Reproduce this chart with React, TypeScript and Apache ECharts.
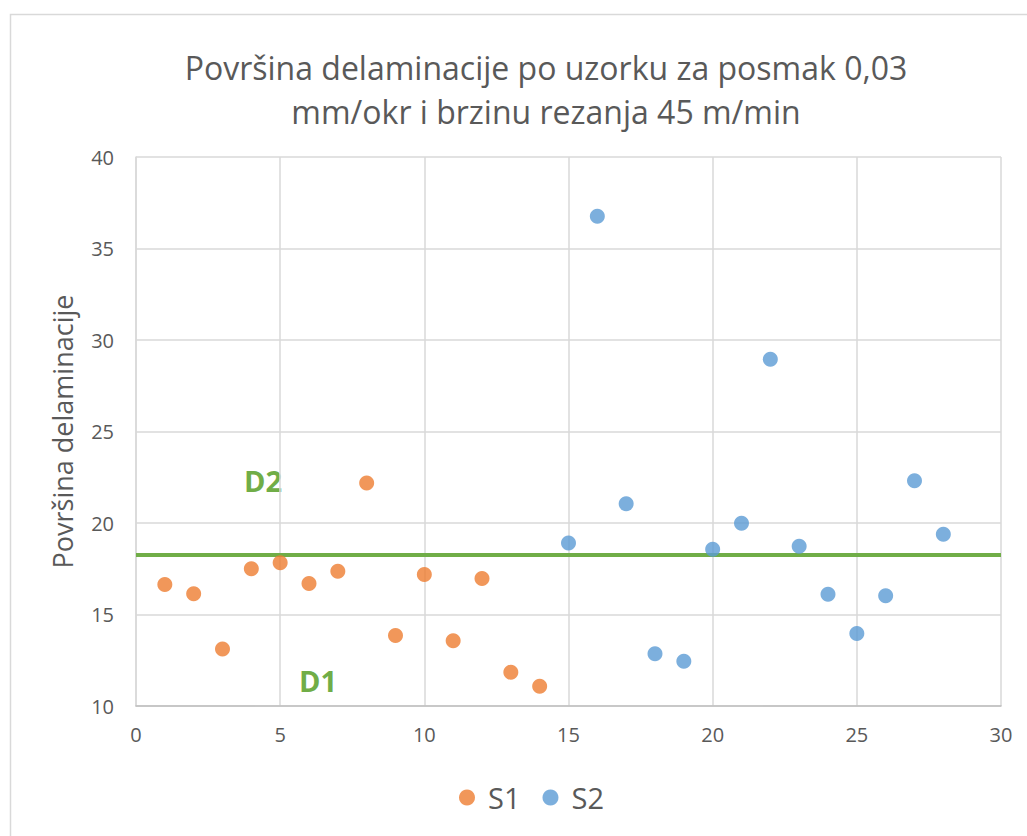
import React, { useEffect, useRef } from "react";
import * as echarts from "echarts";

const titleText = "Površina delaminacije po uzorku za posmak 0,03\nmm/okr i brzinu rezanja 45 m/min";
const yAxisName = "Površina delaminacije";

const s1X = [1, 2, 3, 4, 5, 6, 7, 8, 9, 10, 11, 12, 13, 14];
const s1Y = [16.64, 16.13, 13.12, 17.5, 17.83, 16.7, 17.36, 22.19, 13.85, 17.19, 13.56, 16.97, 11.85, 11.08];

const s2X = [15, 16, 17, 18, 19, 20, 21, 22, 23, 24, 25, 26, 27, 28];
const s2Y = [18.91, 36.76, 21.05, 12.85, 12.45, 18.56, 19.98, 28.95, 18.73, 16.11, 13.96, 16.02, 22.31, 19.38];

const thresholdX = [0, 30];
const thresholdY = 18.25;

const regionLabels = ["D2", "D1"];

export default function App() {
  const ref = useRef<HTMLDivElement>(null);
  useEffect(() => {
    if (!ref.current) return;
    const chart = echarts.init(ref.current, null, { renderer: "svg" });
    const font = "'Open Sans', 'Noto Sans', sans-serif";
    chart.setOption({
      animation: false,
      backgroundColor: "#ffffff",
      textStyle: { fontFamily: font },
      title: {
        text: titleText,
        left: 541,
        textAlign: "center",
        top: 40,
        textStyle: { fontSize: 32, fontWeight: "normal", color: "#595959", lineHeight: 44, fontFamily: font },
      },
      grid: { left: 136, right: 26, top: 157, bottom: 130, containLabel: false },
      xAxis: {
        type: "value",
        min: 0,
        max: 30,
        interval: 5,
        axisLine: { show: true, lineStyle: { color: "#BFBFBF", width: 1.5 } },
        axisTick: { show: false },
        axisLabel: { color: "#595959", fontSize: 20, margin: 18, fontFamily: font },
        splitLine: { show: true, lineStyle: { color: "#D9D9D9", width: 1.5 } },
      },
      yAxis: {
        type: "value",
        min: 10,
        max: 40,
        interval: 5,
        name: yAxisName,
        nameLocation: "middle",
        nameGap: 60,
        nameTextStyle: { color: "#595959", fontSize: 27, fontFamily: font },
        axisLine: { show: true, lineStyle: { color: "#D9D9D9", width: 1.5 } },
        axisTick: { show: false },
        axisLabel: { color: "#595959", fontSize: 20, margin: 22, fontFamily: font },
        splitLine: { show: true, lineStyle: { color: "#D9D9D9", width: 1.5 } },
      },
      legend: {
        data: ["S1", "S2"],
        left: 454,
        top: 778,
        itemWidth: 16,
        itemHeight: 16,
        itemGap: 22,
        icon: "circle",
        textStyle: { color: "#595959", fontSize: 29, fontFamily: font, padding: [0, 0, 0, 8] },
      },
      graphic: [
        {
          type: "rect",
          left: 8,
          top: 12,
          shape: { x: 0, y: 0, width: 1100, height: 900 },
          style: { fill: "none", stroke: "#D9D9D9", lineWidth: 1.5 },
          silent: true,
          z: -1,
        },
        {
          type: "text",
          x: 263,
          y: 480,
          style: { text: regionLabels[0], fill: "#70AD47", font: `bold 29px ${font}`, textAlign: "center", textVerticalAlign: "middle" },
        },
        {
          type: "text",
          x: 318,
          y: 680,
          style: { text: regionLabels[1], fill: "#70AD47", font: `bold 29px ${font}`, textAlign: "center", textVerticalAlign: "middle" },
        },
      ],
      series: [
        {
          name: "threshold",
          type: "line",
          data: thresholdX.map((x) => [x, thresholdY]),
          symbol: "none",
          lineStyle: { color: "#70AD47", width: 4 },
          z: 1,
          silent: true,
        },
        {
          name: "S1",
          type: "scatter",
          data: s1X.map((x, i) => [x, s1Y[i]]),
          symbolSize: 15,
          itemStyle: { color: "#ED7D31" },
          z: 3,
        },
        {
          name: "S2",
          type: "scatter",
          data: s2X.map((x, i) => [x, s2Y[i]]),
          symbolSize: 15,
          itemStyle: { color: "#5B9BD5" },
          z: 3,
        },
      ],
    });
    return () => chart.dispose();
  }, []);
  return <div ref={ref} style={{ position: "fixed", left: 0, top: 0, width: 1027, height: 836 }} />;
}
